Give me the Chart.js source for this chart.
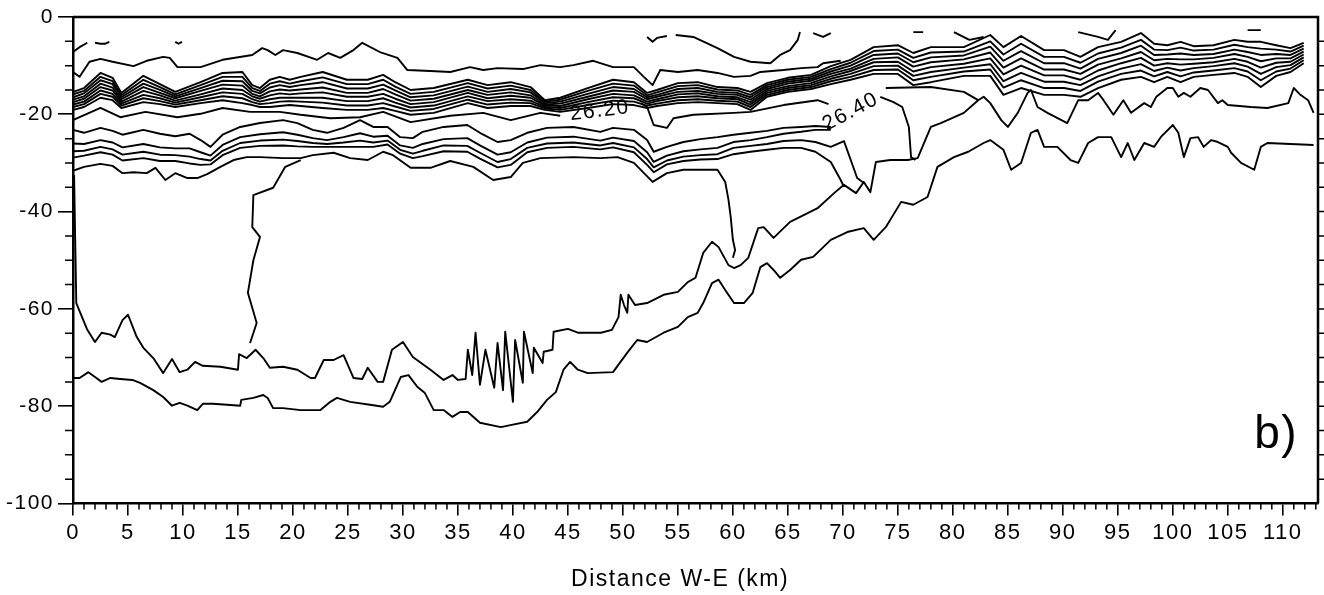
<!DOCTYPE html>
<html>
<head>
<meta charset="utf-8">
<script src="https://cdn.jsdelivr.net/npm/chart.js@4.4.1/dist/chart.umd.min.js"></script>
<style>
  html, body { margin: 0; padding: 0; background: #fff; }
  #wrap { width: 1324px; height: 595px; }
</style>
</head>
<body>
<div id="wrap"><canvas id="section" width="1324" height="595"></canvas></div>
<script>
// Distance along the W-E section (km) and depth (m) of each contour line.

// upper bundle of tightly packed isolines, all sampled at the same distances
const bundleKm = [0,1.0,2.5,3.6,4.4,6.4,7.9,9.3,11.6,13.6,15.4,16.3,17.0,17.9,18.8,19.7,20.7,22.7,24.9,26.8,28.2,29.3,30.7,32.8,35.9,37.7,39.8,41.6,42.9,44.3,46.8,49.1,51.0,52.2,53.1,55.0,56.8,58.6,60.4,61.6,63.1,65.0,67.1,68.9,70.7,72.8,75.0,76.4,78.0,81.0,83.4,84.6,86.2,88.3,90.1,91.6,93.2,95.3,97.1,98.3,99.5,100.7,101.9,103.7,105.6,106.8,108.0,109.4,110.7,111.9];
const bundle1 = [-15.4,-14.6,-11.5,-12.5,-15.6,-12.1,-13.8,-15.4,-13.4,-11.5,-11.3,-14.0,-14.6,-12.9,-12.3,-12.9,-12.3,-11.3,-12.9,-12.9,-11.9,-13.4,-15.0,-14.6,-12.9,-14.0,-13.4,-14.4,-17.1,-16.6,-14.6,-12.9,-13.4,-15.6,-15.0,-13.6,-13.4,-14.4,-14.6,-15.4,-13.6,-12.5,-11.9,-10.1,-8.8,-6.2,-5.8,-7.4,-6.2,-6.2,-3.7,-6.2,-3.9,-6.8,-6.8,-8.2,-6.2,-5.1,-3.3,-5.5,-5.8,-5.1,-6.0,-5.8,-4.7,-5.1,-5.1,-5.8,-6.4,-5.3];
const bundle2 = [-15.9,-15.2,-12.3,-13.2,-16.1,-12.9,-14.4,-15.9,-14.0,-12.3,-12.3,-14.6,-15.2,-13.7,-13.2,-13.7,-13.2,-12.4,-13.8,-13.8,-12.9,-14.3,-15.8,-15.4,-13.6,-14.7,-14.1,-15.0,-17.4,-17.0,-15.2,-13.7,-14.1,-16.1,-15.5,-14.2,-14.0,-14.9,-15.1,-16.0,-14.0,-12.9,-12.3,-10.7,-9.4,-7.0,-6.7,-8.4,-7.3,-7.1,-5.0,-7.7,-5.5,-8.2,-8.2,-9.4,-7.5,-6.3,-4.7,-6.7,-6.8,-6.3,-6.9,-6.7,-5.7,-6.2,-6.5,-6.7,-7.1,-5.9];
const bundle3 = [-16.5,-15.7,-13.0,-13.8,-16.5,-13.7,-15.0,-16.3,-14.6,-13.1,-13.2,-15.2,-15.7,-14.5,-14.0,-14.4,-14.0,-13.4,-14.7,-14.7,-13.9,-15.1,-16.5,-16.1,-14.3,-15.4,-14.8,-15.5,-17.7,-17.4,-15.8,-14.4,-14.8,-16.5,-16.0,-14.8,-14.6,-15.4,-15.6,-16.5,-14.4,-13.3,-12.7,-11.2,-10.0,-7.8,-7.5,-9.3,-8.3,-7.9,-6.1,-9.0,-7.0,-9.5,-9.5,-10.6,-8.6,-7.4,-5.9,-7.8,-7.7,-7.5,-7.8,-7.6,-6.7,-7.2,-7.8,-7.6,-7.8,-6.5];
const bundle4 = [-17.0,-16.3,-13.7,-14.5,-16.9,-14.4,-15.6,-16.7,-15.2,-13.9,-14.1,-15.8,-16.3,-15.3,-14.9,-15.1,-14.9,-14.5,-15.6,-15.6,-14.8,-15.9,-17.2,-16.8,-15.0,-16.0,-15.5,-16.1,-18.0,-17.8,-16.4,-15.1,-15.4,-16.9,-16.4,-15.4,-15.2,-15.8,-16.0,-17.0,-14.8,-13.7,-13.1,-11.7,-10.6,-8.6,-8.3,-10.2,-9.3,-8.7,-7.3,-10.4,-8.5,-10.8,-10.8,-11.7,-9.8,-8.5,-7.2,-8.9,-8.6,-8.7,-8.7,-8.4,-7.6,-8.2,-9.1,-8.5,-8.5,-7.1];
const bundle5 = [-17.5,-16.8,-14.4,-15.1,-17.4,-15.2,-16.1,-17.2,-15.9,-14.7,-15.0,-16.3,-16.8,-16.1,-15.7,-15.9,-15.7,-15.5,-16.4,-16.4,-15.8,-16.8,-17.9,-17.5,-15.6,-16.7,-16.2,-16.6,-18.2,-18.3,-16.9,-15.8,-16.1,-17.4,-16.9,-15.9,-15.7,-16.3,-16.5,-17.5,-15.2,-14.2,-13.6,-12.2,-11.1,-9.3,-9.2,-11.2,-10.3,-9.6,-8.5,-11.8,-10.0,-12.0,-12.0,-12.9,-11.0,-9.5,-8.4,-10.0,-9.5,-9.8,-9.6,-9.3,-8.6,-9.2,-10.4,-9.4,-9.2,-7.7];
const bundle6 = [-18.0,-17.4,-15.1,-15.8,-17.8,-16.0,-16.7,-17.6,-16.5,-15.5,-15.8,-16.9,-17.4,-16.9,-16.6,-16.6,-16.6,-16.6,-17.3,-17.3,-16.7,-17.6,-18.6,-18.2,-16.3,-17.3,-16.9,-17.2,-18.5,-18.7,-17.5,-16.5,-16.7,-17.8,-17.3,-16.5,-16.3,-16.7,-16.9,-18.0,-15.6,-14.6,-14.0,-12.7,-11.7,-10.1,-10.0,-12.1,-11.3,-10.4,-9.7,-13.2,-11.5,-13.3,-13.3,-14.0,-12.2,-10.6,-9.7,-11.1,-10.4,-11.0,-10.5,-10.1,-9.5,-10.2,-11.7,-10.3,-9.9,-8.3];
const bundle7 = [-18.5,-17.9,-15.8,-16.4,-18.2,-16.7,-17.3,-18.0,-17.1,-16.3,-16.7,-17.5,-17.9,-17.7,-17.4,-17.3,-17.4,-17.6,-18.2,-18.2,-17.7,-18.4,-19.3,-18.9,-17.0,-18.0,-17.6,-17.7,-18.8,-19.1,-18.1,-17.2,-17.4,-18.2,-17.8,-17.1,-16.9,-17.2,-17.4,-18.5,-16.0,-15.0,-14.4,-13.2,-12.3,-10.9,-10.8,-13.0,-12.3,-11.2,-10.8,-14.5,-13.0,-14.6,-14.6,-15.2,-13.3,-11.7,-11.0,-12.2,-11.3,-12.2,-11.4,-11.0,-10.5,-11.2,-13.0,-11.2,-10.6,-8.9];
const bundle8 = [-19.1,-18.5,-16.6,-17.1,-18.7,-17.5,-17.9,-18.5,-17.7,-17.1,-17.7,-18.1,-18.5,-18.5,-18.3,-18.1,-18.3,-18.7,-19.1,-19.1,-18.7,-19.3,-20.1,-19.7,-17.7,-18.7,-18.3,-18.3,-19.1,-19.5,-18.7,-17.9,-18.1,-18.7,-18.3,-17.7,-17.5,-17.7,-17.9,-19.1,-16.4,-15.4,-14.8,-13.8,-12.9,-11.7,-11.7,-14.0,-13.4,-12.1,-12.1,-16.0,-14.6,-16.0,-16.0,-16.4,-14.6,-12.9,-12.3,-13.4,-12.3,-13.4,-12.3,-11.9,-11.5,-12.3,-14.4,-12.1,-11.3,-9.5];

// thin isoline above the bundle (western half)
const thinKm = [0,0.6,1.5,2.5,3.6,5.5,6.7,8.2,8.8,9.5,11.6,13.6,16.3,17.2,17.7,18.4,19.1,20.4,22.2,23.2,24.3,25.5,26.3,27.9,29.5,30.4,32.5,34.3,36.1,37.3,38.6,40.9,42.5,44.3,45.5,47.3,49.1,51.0,51.9,52.7,53.4,55.0,56.8,58.6,60.1,61.6,62.5,64.6,66.2,67.7,68.2,69.8];
const thinDepth = [-11.3,-12.3,-9.2,-8.6,-9.2,-10.1,-9.0,-8.2,-8.4,-10.3,-10.3,-8.8,-7.8,-6.4,-6.8,-7.8,-6.8,-7.4,-8.8,-7.4,-8.4,-6.8,-5.3,-7.2,-8.4,-10.9,-11.1,-11.3,-10.3,-10.9,-10.5,-10.7,-9.9,-10.3,-9.9,-9.0,-10.3,-10.3,-12.3,-14.0,-10.9,-11.3,-10.9,-11.5,-12.3,-12.1,-11.3,-10.9,-10.5,-10.3,-9.5,-9.0];

// short pieces of the shallowest isoline near the surface
const surfaceBits = [
  { km: [0,0.6,1.3], depth: [-7.2,-6.2,-5.3] },
  { km: [2.0,2.5,2.9,3.3], depth: [-5.3,-5.5,-5.5,-5.1] },
  { km: [9.3,9.6,9.9], depth: [-5.1,-5.5,-5.1] },
  { km: [52.2,52.7,53.1,54.0], depth: [-4.1,-5.1,-4.3,-3.9] },
  { km: [54.8,56.4,58.6,60.1,61.6,63.4,64.3,65.2,65.9,66.1], depth: [-3.7,-4.1,-6.4,-8.2,-9.2,-9.5,-7.8,-6.8,-4.7,-3.1] },
  { km: [67.3,68.2,68.9], depth: [-3.3,-4.1,-3.3] },
  { km: [76.4,77.3], depth: [-3.1,-3.1] },
  { km: [80.1,81.5,82.8], depth: [-3.1,-4.7,-4.1] },
  { km: [91.4,93.2,94.1,94.8], depth: [-3.1,-4.1,-4.7,-2.7] },
  { km: [106.8,108.0], depth: [-2.7,-2.7] }
];

// labelled isoline (26.20 ... 26.40); null = gap where the label sits
const midKm = [0,0.6,2.5,4.3,6.6,9.5,11.6,13.6,16.1,18.8,20.7,23.4,26.1,28.2,30.7,34.3,37.3,39.8,42.5,44.3,48,51.6,52.2,52.8,54.0,54.6,56.4,60.1,61.6,64.6,67.7,68.7,71,73.4,74.6,75.4,76.0,76.2,76.6];
const midDepth = [-21.2,-20.6,-18.7,-20.6,-19.5,-20.6,-19.9,-18.7,-19.5,-19.5,-20.1,-20.8,-20.6,-19.5,-21.6,-20.3,-19.7,-21.2,-19.7,-20.3,null,-17.7,-18.5,-22.2,-22.8,-20.8,-20.1,-19.7,-19.5,-18.1,-17.1,-17.9,null,-16.4,-17.5,-18.5,-22.6,-28.8,-29.4];
const sideKm = [73.9,78.0,81.0,82.3];
const sideDepth = [-14.6,-14.4,-15.4,-17.1];

// lower group of five isolines
const lowerKm = [0,1.0,2.5,3.6,4.5,6.4,7.9,9.3,10.6,11.6,12.5,13.6,15.2,17.0,19.1,20.4,21.8,23.1,24.6,26.1,27.3,28.6,29.75,30.9,31.8,33.7,35.85,37.0,38.6,39.8,41.3,43.1,45.5,47.95,49.1,51.0,52.2,52.8,54.0,55.5,57.05,58.6,60.05,61.6,63.1,64.6,66.2,67.5,68.9];
const lower1 = [-23.2,-23.8,-22.8,-23.4,-24.2,-23.2,-24.0,-24.5,-24.0,-25.3,-26.7,-24.2,-22.6,-21.8,-21.2,-21.8,-23.2,-23.8,-22.8,-21.2,-22.6,-22.6,-24.7,-24.9,-23.6,-22.6,-22.2,-23.8,-25.7,-25.3,-23.8,-22.8,-22.6,-23.6,-22.8,-23.2,-25.3,-27.7,-26.7,-25.7,-25.1,-24.7,-24.2,-23.8,-23.4,-22.8,-22.6,-22.4,-22.6];
const lower2 = [-26.0,-26.1,-25.3,-25.8,-26.8,-26.1,-26.8,-27.0,-27.0,-27.8,-28.5,-26.3,-24.7,-24.1,-23.7,-24.2,-24.9,-25.3,-24.7,-23.9,-24.6,-24.4,-26.4,-26.9,-26.1,-25.1,-24.9,-26.4,-28.3,-27.8,-25.8,-24.8,-24.6,-25.4,-24.8,-25.5,-27.8,-29.8,-28.5,-27.6,-27.2,-26.9,-25.7,-25.3,-24.7,-24.0,-23.6,-23.2,-23.2];
const lower3 = [-27.6,-27.5,-26.7,-27.2,-28.3,-27.7,-28.3,-28.4,-28.7,-29.2,-29.5,-27.5,-25.9,-25.4,-25.2,-25.5,-25.9,-26.1,-25.8,-25.4,-25.8,-25.4,-27.3,-28.1,-27.5,-26.4,-26.5,-27.9,-29.8,-29.2,-26.9,-26.0,-25.8,-26.4,-25.9,-26.8,-29.2,-30.9,-29.5,-28.7,-28.4,-28.2,-26.9,-26.5,-26.1,-25.5,-25.3,-25.7,-26.7];
const lower3TailKm = [70.1,71.3,71.9];
const lower3TailDepth = [-25.5,-33.1,-34.1];
const lower4 = [-28.9,-28.5,-27.8,-28.3,-29.5,-29.0,-29.6,-29.6,-30.1,-30.4,-30.3,-28.4,-26.9,-26.5,-26.4,-26.6,-26.7,-26.7,-26.7,-26.7,-26.7,-26.2,-28.1,-29.0,-28.6,-27.6,-27.7,-29.1,-30.9,-30.4,-27.8,-26.9,-26.7,-27.2,-26.8,-27.8,-30.4,-31.9,-30.3,-29.6,-29.3,-29.2,-28.2,-27.7,-27.3,-26.9,-26.9,-27.7,-29.8];
const lower4TailKm = [69.8,70.1];
const lower4TailDepth = [-33.5,-34.9];
const lower5Km = [0,1.0,2.5,3.6,4.5,5.5,6.7,7.5,8.4,9.3,10.4,11.3,12.2,13.4,14.6,15.8,17.0,19.1,20.7,21.8,23.7,25.2,26.8,28.2,29.1,30.7,32.5,34.3,36.4,38.2,39.8,40.9,42.5,45.5,47.95,49.5,51.0,52.7,54.0,55.5,58.6,59.3,59.6,59.8,60.0,60.2,60.0];
const lower5Depth = [-31.6,-30.8,-30.2,-30.6,-32.1,-31.9,-32.1,-31.0,-33.5,-32.1,-33.1,-33.1,-32.3,-30.8,-29.4,-28.8,-28.8,-29.0,-29.0,-28.4,-27.9,-29.0,-29.4,-27.7,-28.4,-31.0,-31.0,-29.6,-30.8,-33.5,-32.9,-30.0,-29.0,-28.8,-29.0,-28.8,-30.0,-33.9,-32.1,-31.4,-31.4,-33.9,-37.6,-41.1,-45.8,-47.9,-49.5];

// near-vertical isoline around 16 km
const westKm = [20.7,19.3,18.2,16.4,16.3,17.0,16.4,15.9,16.7,16.1];
const westDepth = [-29.4,-30.8,-35.1,-36.6,-43.2,-45.2,-50.0,-56.7,-62.9,-67.0];

// the two deep isolines
const deepKm = [0.1,0.2,0.3,1.3,2.0,2.6,3.4,3.8,4.5,5.0,5.8,6.4,7.3,8.2,9.0,9.7,10.4,11.1,11.8,13.4,15.0,15.1,15.8,16.6,17.3,17.9,19.1,20.4,21.6,22.0,22.8,23.7,24.6,25.5,26.3,26.8,27.7,28.2,29.0,30.0,30.9,32.5,33.7,34.5,35.0,35.7,35.9,36.3,36.6,37.0,37.5,38.3,38.6,39.1,39.3,40.0,40.2,40.9,41.0,41.8,41.9,42.7,42.8,43.6,43.7,45.0,45.9,46.8,48.0,49.0,49.6,49.8,50.1,50.4,50.5,51.1,52.2,53.7,55.0,55.9,56.6,57.3,58.1,58.7,59.6,60.1,60.7,61.4,62.3,62.8,63.7,65.2,66.8,67.7,69.2,70.1,71.2,71.9,72.5,73.0,74.3,75.9,76.8,78.0,78.9,81.0,82.3,82.8,83.4,84.4,85.0,85.9,86.8,87.1,87.7,88.6,90.4,91.4,92.3,93.2,93.7,94.6,95.5,96.2,97.4,98.0,98.5,99.5,100.0,100.5,101.0,101.6,102.5,103.2,104.1,104.5,105.0,107.1,108.6,110.5,111.0,111.6,112.3,112.8];
const deepDepth = [-32.5,-45.8,-58.8,-64.3,-66.8,-64.9,-65.3,-65.8,-62.3,-61.2,-65.8,-68.0,-70.1,-73.2,-70.3,-73.0,-72.5,-70.9,-71.7,-71.9,-72.5,-69.3,-70.1,-68.4,-70.1,-72.1,-71.9,-72.5,-74.2,-74.2,-70.5,-70.5,-69.5,-74.2,-74.4,-72.1,-75.0,-75.0,-68.4,-66.8,-69.9,-72.5,-74.6,-73.6,-74.6,-74.4,-68.4,-73.6,-64.9,-75.6,-68.4,-76.2,-67.0,-76.7,-64.7,-79.1,-66.4,-75.2,-64.7,-73.2,-68.0,-71.1,-68.8,-68.4,-64.7,-64.1,-64.9,-64.9,-64.9,-64.3,-61.7,-57.1,-59.2,-60.8,-57.1,-59.2,-58.8,-57.1,-56.5,-54.5,-53.6,-48.5,-46.2,-47.3,-51.0,-51.6,-51.0,-49.5,-43.4,-43.2,-45.4,-42.1,-40.3,-39.3,-36.2,-34.5,-36.2,-33.9,-36.0,-29.8,-29.4,-29.4,-29.0,-22.6,-21.8,-19.7,-17.1,-16.4,-17.7,-21.2,-22.6,-19.7,-15.6,-15.0,-18.5,-19.7,-21.8,-17.1,-17.1,-15.6,-17.1,-20.1,-17.1,-19.7,-17.7,-18.5,-16.4,-14.6,-14.6,-16.4,-15.6,-16.4,-14.6,-15.0,-17.7,-17.1,-18.1,-18.5,-18.7,-17.7,-14.6,-16.0,-17.1,-19.7];
const bottomKm = [0,0.6,1.4,2.0,2.6,3.4,4.3,5.4,6.1,7.3,8.2,9.0,9.7,10.4,11.3,11.8,12.7,14.0,15.2,15.3,16.4,17.3,17.7,18.2,19.1,20.7,22.5,23.4,24.0,25.2,27.0,28.2,28.8,29.8,30.5,31.3,32.0,32.8,33.7,34.5,35.2,35.9,37.0,38.9,40.0,41.3,42.2,43.1,43.9,44.6,45.2,45.9,46.8,49.1,50.4,51.3,52.2,53.7,55.0,55.9,56.8,57.3,58.1,58.7,59.3,60.1,61.0,61.8,62.5,63.1,63.7,64.3,65.2,66.2,67.3,68.9,70.4,71.9,72.8,73.9,75.3,76.4,77.7,78.6,80.1,81.4,82.8,83.4,84.6,85.3,86.2,87.1,87.7,88.3,89.5,90.7,91.4,92.3,93.2,94.4,95.3,95.9,96.5,97.4,98.3,98.9,100.0,100.5,101.0,101.6,102.3,102.8,103.5,104.1,105.0,105.3,106.2,107.4,108.0,108.6,112.8];
const bottomDepth = [-74.2,-74.2,-73.0,-74.0,-75.0,-74.2,-74.4,-74.6,-75.2,-76.7,-78.1,-79.9,-79.3,-79.9,-80.8,-79.5,-79.5,-79.7,-79.9,-78.7,-78.3,-77.7,-78.3,-80.4,-80.4,-80.8,-80.8,-79.1,-78.3,-79.1,-79.7,-80.1,-79.1,-74.0,-73.6,-76.0,-77.3,-80.8,-80.8,-82.2,-81.2,-81.2,-83.4,-84.3,-83.8,-83.2,-81.2,-78.7,-77.1,-72.5,-70.9,-72.5,-73.2,-73.0,-69.0,-66.4,-66.8,-64.9,-63.7,-61.7,-60.8,-58.8,-54.7,-54.0,-56.1,-58.8,-58.8,-56.7,-51.4,-50.6,-52.0,-53.6,-52.0,-49.9,-49.3,-45.8,-44.2,-43.4,-45.8,-43.2,-38.0,-38.6,-37.0,-30.8,-28.8,-27.7,-25.9,-25.3,-27.3,-31.4,-30.0,-23.8,-23.2,-26.7,-26.7,-29.4,-30.0,-25.9,-24.7,-24.7,-28.8,-25.9,-29.4,-25.9,-26.7,-24.7,-22.2,-23.8,-28.8,-24.9,-24.7,-26.7,-25.3,-25.7,-26.7,-27.9,-30.0,-31.4,-26.7,-25.9,-26.3];

// isoline labels, panel tag and axis title
const contourLabels = [
  { text: '26.20', km: 47.9, depth: -19.3, angle: -7 },
  { text: '26.40', km: 70.7, depth: -19.5, angle: -28 }
];
const panelTag = { text: 'b)', km: 107.4, depth: -88.6 };
const xTitle = { text: 'Distance W-E (km)', km: 55.2 };

const FONT = "'Liberation Sans', Arial, Helvetica, sans-serif";

function series(xs, ys) {
  const n = Math.min(xs.length, ys.length);
  const pts = [];
  for (let i = 0; i < n; i++) pts.push({ x: xs[i], y: ys[i] });
  return pts;
}

function contour(points) {
  return {
    data: points,
    showLine: true,
    borderColor: '#000',
    borderWidth: 1.9,
    borderJoinStyle: 'round',
    pointRadius: 0,
    fill: false,
    spanGaps: false
  };
}

const lines = [
  series(bundleKm, bundle1), series(bundleKm, bundle2), series(bundleKm, bundle3),
  series(bundleKm, bundle4), series(bundleKm, bundle5), series(bundleKm, bundle6),
  series(bundleKm, bundle7), series(bundleKm, bundle8),
  series(thinKm, thinDepth),
  series(midKm, midDepth),
  series(sideKm, sideDepth),
  series(lowerKm, lower1),
  series(lowerKm, lower2),
  series(lowerKm, lower3).concat(series(lower3TailKm, lower3TailDepth)),
  series(lowerKm, lower4).concat(series(lower4TailKm, lower4TailDepth)),
  series(lower5Km, lower5Depth),
  series(westKm, westDepth),
  series(deepKm, deepDepth),
  series(bottomKm, bottomDepth)
].concat(surfaceBits.map(b => series(b.km, b.depth)));

// frame, minor ticks and text drawn on top
const decor = {
  id: 'decor',
  beforeDraw(chart) {
    chart.ctx.letterSpacing = '1.5px';
  },
  afterDraw(chart) {
    const { ctx, chartArea: a, scales: { x, y } } = chart;
    ctx.save();
    ctx.strokeStyle = '#000';
    ctx.lineWidth = 2.5;
    ctx.beginPath();
    ctx.moveTo(a.left, a.top);
    ctx.lineTo(a.right, a.top);
    ctx.lineTo(a.right, a.bottom);
    ctx.stroke();

    ctx.lineWidth = 1.5;
    ctx.beginPath();
    for (let v = 1; v <= 113; v++) {
      if (v % 5 === 0) continue;
      const px = x.getPixelForValue(v);
      ctx.moveTo(px, a.bottom);
      ctx.lineTo(px, a.bottom + 6);
    }
    for (let v = -95; v < 0; v += 5) {
      const py = y.getPixelForValue(v);
      if (v % 20 !== 0) {
        ctx.moveTo(a.left - 8, py);
        ctx.lineTo(a.left, py);
      }
      ctx.moveTo(a.right, py);
      ctx.lineTo(a.right + 7, py);
    }
    ctx.stroke();

    ctx.fillStyle = '#000';
    ctx.textAlign = 'center';
    ctx.textBaseline = 'middle';
    ctx.font = '21px ' + FONT;
    contourLabels.forEach(l => {
      ctx.save();
      ctx.translate(x.getPixelForValue(l.km), y.getPixelForValue(l.depth));
      ctx.rotate(l.angle * Math.PI / 180);
      ctx.fillText(l.text, 0, 0);
      ctx.restore();
    });

    ctx.font = '23px ' + FONT;
    ctx.fillText(xTitle.text, x.getPixelForValue(xTitle.km), chart.height - 15);

    ctx.textAlign = 'left';
    ctx.textBaseline = 'alphabetic';
    ctx.font = '46px ' + FONT;
    ctx.fillText(panelTag.text, x.getPixelForValue(panelTag.km), y.getPixelForValue(panelTag.depth));
    ctx.restore();
  }
};

new Chart(document.getElementById('section').getContext('2d'), {
  type: 'scatter',
  data: { datasets: lines.map(contour) },
  options: {
    responsive: false,
    animation: false,
    devicePixelRatio: 1,
    layout: { padding: { top: 17, right: 6, left: 0, bottom: 0 } },
    plugins: { legend: { display: false }, tooltip: { enabled: false } },
    scales: {
      x: {
        type: 'linear', min: 0, max: 113.2,
        afterFit(s) { s.height = 91.5; },
        border: { color: '#000', width: 2.5 },
        grid: { drawOnChartArea: false, color: '#000', lineWidth: 1.6, tickLength: 12 },
        ticks: {
          stepSize: 5, autoSkip: false, includeBounds: false, maxRotation: 0,
          color: '#000', padding: 4, font: { family: FONT, size: 22 }
        }
      },
      y: {
        type: 'linear', min: -100, max: 0,
        afterFit(s) { s.width = 73; },
        border: { color: '#000', width: 2.5 },
        grid: { drawOnChartArea: false, color: '#000', lineWidth: 1.6, tickLength: 15 },
        ticks: { stepSize: 20, color: '#000', padding: 4, font: { family: FONT, size: 21 } }
      }
    }
  },
  plugins: [decor]
});
</script>
</body>
</html>
